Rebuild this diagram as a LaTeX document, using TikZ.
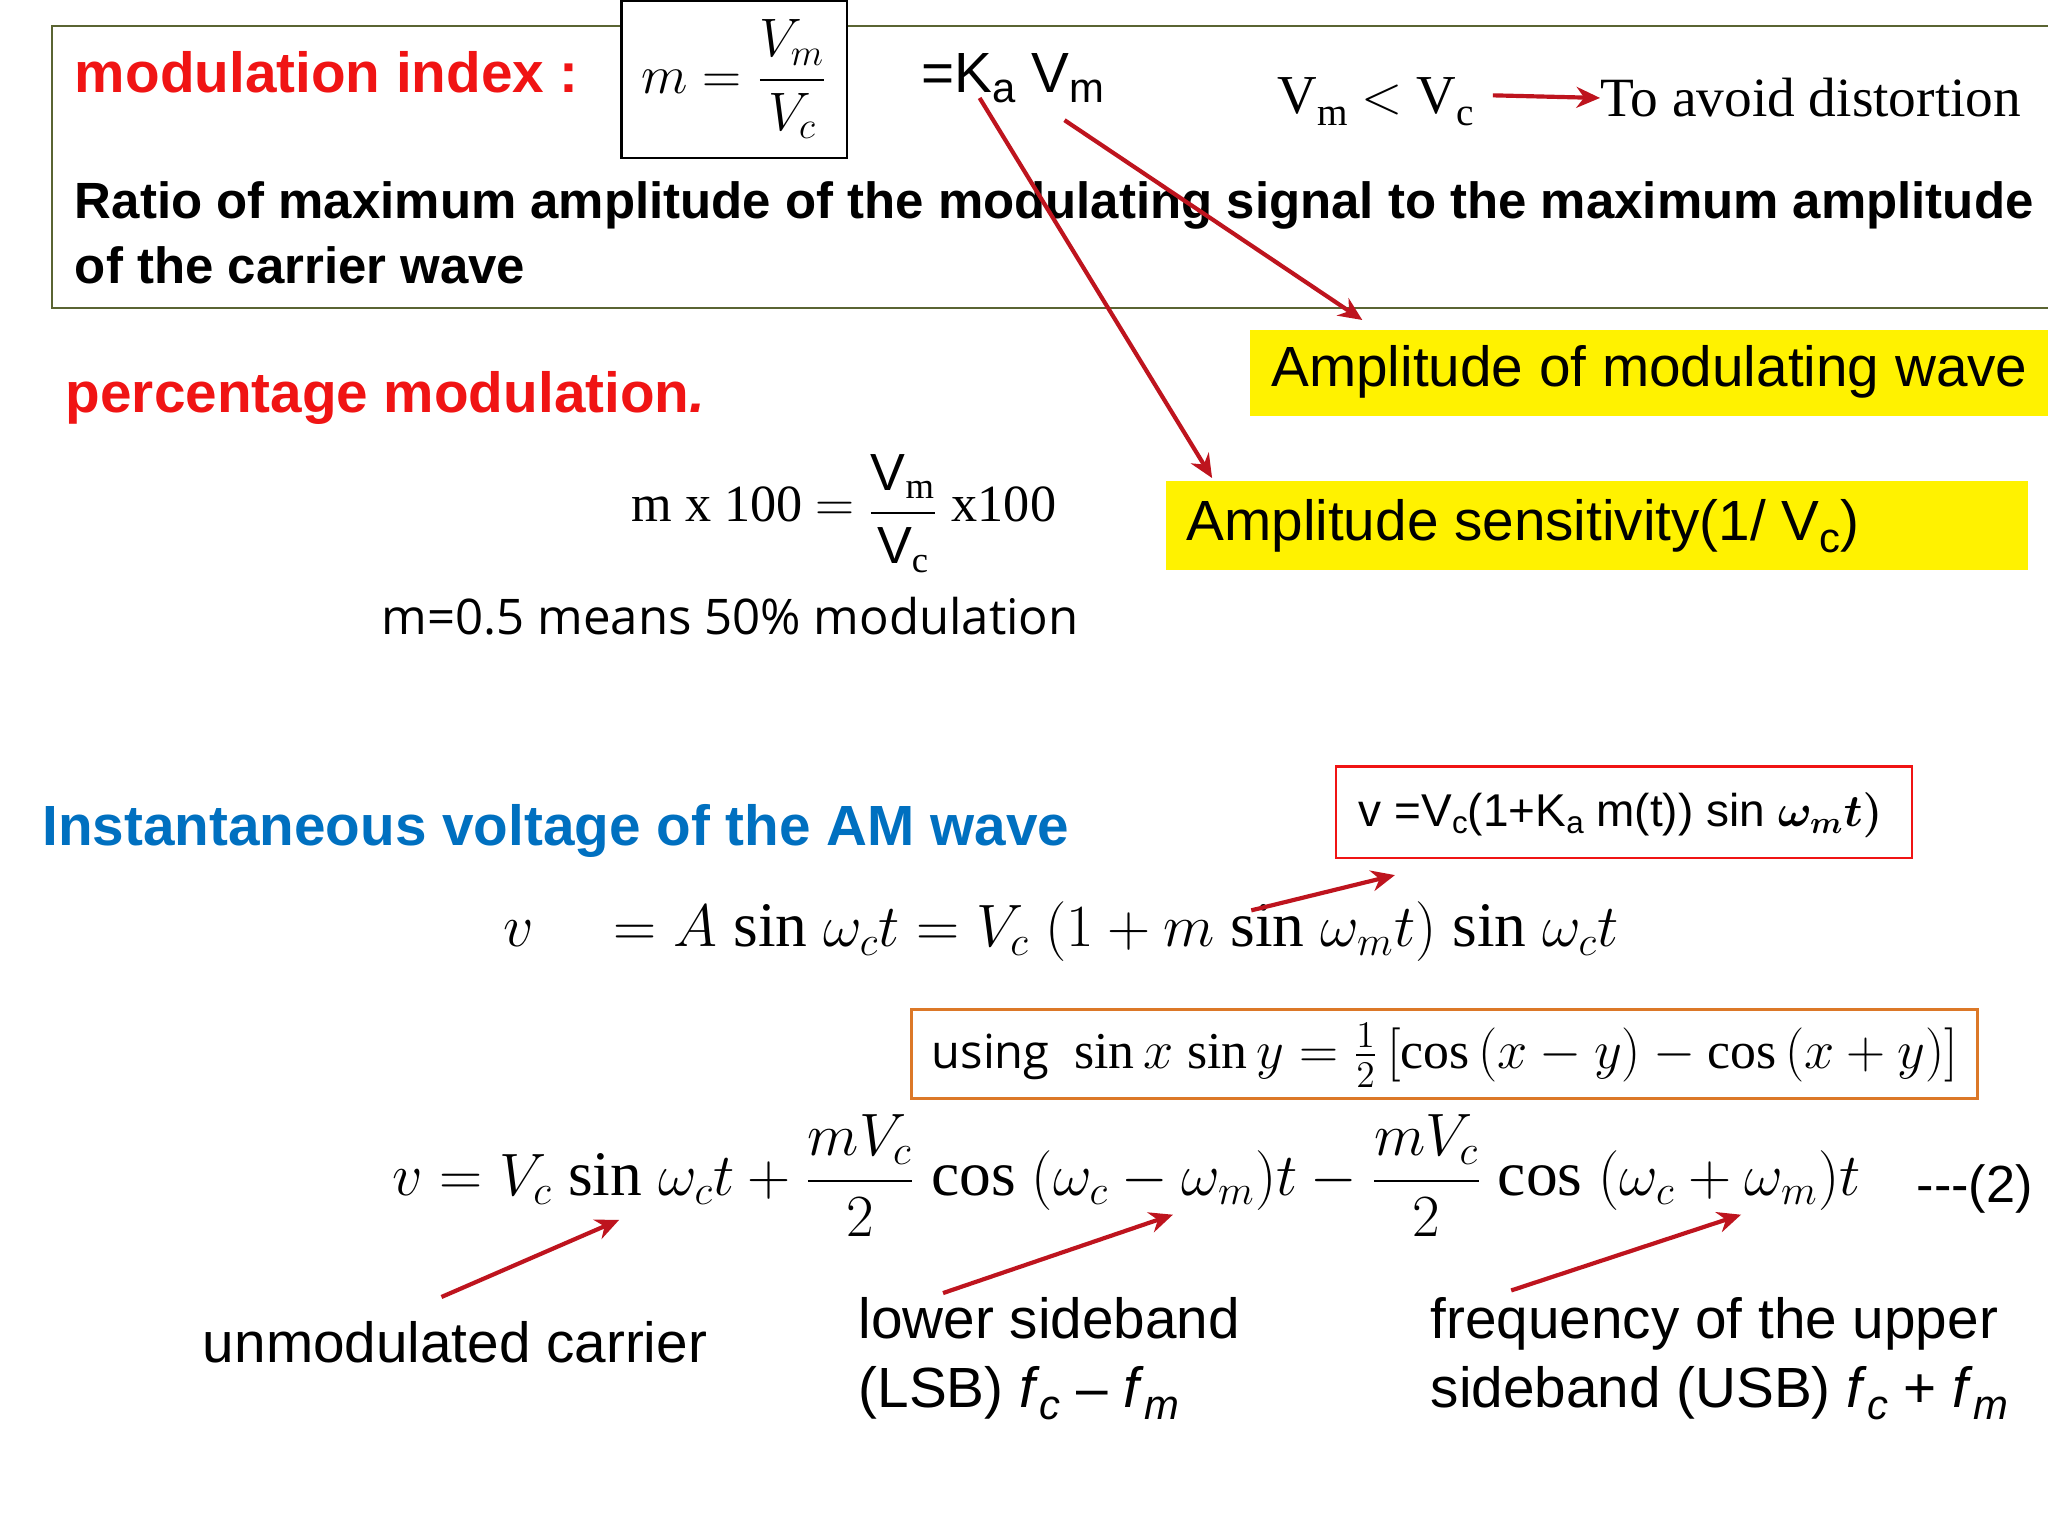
\documentclass[tikz,border=0pt]{standalone}
\usepackage{amsmath}
\usepackage{graphicx}
\usepackage{fontspec}
\setmainfont{Liberation Serif}
\setsansfont{Liberation Sans}
\newfontfamily\osans{Open Sans}
\usetikzlibrary{arrows.meta}
\definecolor{ared}{RGB}{190,20,30}
\definecolor{tred}{RGB}{240,20,20}
\definecolor{tblue}{RGB}{0,112,192}
\definecolor{olivebd}{RGB}{90,100,50}
\definecolor{orng}{RGB}{220,120,40}
\tikzset{
 arr/.style={draw=ared,line width=1.6pt,-{Stealth[length=9pt,width=8pt]}},
 lab/.style={anchor=west,inner sep=0pt,font=\sffamily\fontsize{21.7}{26}\selectfont},
 hd/.style={anchor=west,inner sep=0pt,font=\sffamily\bfseries\fontsize{21.7}{26}\selectfont},
 ybox/.style={fill=yellow,draw=none,anchor=north west,inner sep=0pt},
 eq/.style={inner sep=0pt,font=\fontsize{22}{26}\selectfont}
}
\begin{document}
\begin{tikzpicture}[x=0.5pt,y=-0.5pt]
\useasboundingbox (0,0) rectangle (1568,1176);
\fill[white] (0,0) rectangle (1568,1176);
\draw[olivebd,line width=0.8pt] (1570,20) -- (40,20) -- (40,236) -- (1570,236);
\node[hd,text=tred] (mi) at (57,55) {modulation index :};
\node[draw,fill=white,line width=0.8pt,minimum width=86.5pt,minimum height=60pt,anchor=north west,inner sep=0pt] (mbox) at (475,0) {};
\node[inner sep=0pt,font=\fontsize{21}{24}\selectfont] (mfrac) at (mbox.center) {$m=\dfrac{V_m}{V_c}$};
\node[lab] (ka) at (705,60) {=K\raisebox{-0.35ex}{\fontsize{16}{17}\selectfont a} V\raisebox{-0.35ex}{\fontsize{16}{17}\selectfont m}};
\node[anchor=west,inner sep=0pt,font=\fontsize{21}{24}\selectfont] (vmvc) at (978,78) {V\raisebox{-0.5ex}{\fontsize{15}{16}\selectfont m} $<$ V\raisebox{-0.5ex}{\fontsize{15}{16}\selectfont c}};
\coordinate (a1) at (1143,73);
\node[anchor=west,inner sep=0pt,font=\fontsize{21.2}{24}\selectfont] (avoid) at (1225,75) {To avoid distortion};
\draw[arr] (a1) -- (avoid.west);
\node[anchor=west,inner sep=0pt,font=\sffamily\bfseries\fontsize{19.5}{22}\selectfont] (ratio1) at (57,157) {Ratio of maximum amplitude of the modulating signal to the maximum amplitude};
\node[anchor=west,inner sep=0pt,font=\sffamily\bfseries\fontsize{19.5}{22}\selectfont] (ratio2) at (57,203) {of the carrier wave};
\node[hd,text=tred] (pm) at (50,305) {percentage modulation\textit{.}};
\node[anchor=west,inner sep=0pt,font=\fontsize{20}{24}\selectfont] (pmeq) at (483,393) {m x 100 $=$ \raisebox{-0.2ex}{$\dfrac{\textsf{V}_{\mathrm{m}}}{\textsf{V}_{\mathrm{c}}}$} x100};
\node[anchor=west,inner sep=0pt,font=\osans\fontsize{18.8}{22}\selectfont] (half) at (292,472) {m=0.5 means 50\% modulation};
\node[ybox,minimum width=305.5pt,minimum height=33pt] (y1) at (957,252) {};
\node[lab] (y1t) at (973,285) {Amplitude of modulating wave};
\node[ybox,minimum width=330pt,minimum height=34pt] (y2) at (892,368) {};
\node[lab] (y2t) at (908,403) {Amplitude sensitivity(1/ V\raisebox{-0.4ex}{\fontsize{16}{17}\selectfont c})};
\coordinate (s1) at (815,92); \coordinate (e1) at (1043,245);
\coordinate (s2) at (750,75); \coordinate (e2) at (928,366);
\draw[arr] (s1) -- (e1);
\draw[arr] (s2) -- (e2);
\node[hd,text=tblue] (inst) at (32,636) {Instantaneous voltage of the AM wave};
\node[draw=tred,line width=1pt,minimum width=220.5pt,minimum height=35pt,anchor=north west,inner sep=0pt] (rbox) at (1022,586) {};
\node[anchor=west,inner sep=0pt,font=\sffamily\fontsize{17.6}{20}\selectfont] (rbt) at (1040,624) {v =V\raisebox{-0.3ex}{\fontsize{12}{14}\selectfont c}(1+K\raisebox{-0.3ex}{\fontsize{12}{14}\selectfont a} m(t)) sin $\boldsymbol{\omega_m t)}$};
\node[eq,anchor=west] (eq1) at (385,713) {\resizebox{427pt}{!}{$v\quad = A\ \mathrm{sin}\ \omega_c t = V_c\ (1+m\ \mathrm{sin}\ \omega_m t)\ \mathrm{sin}\ \omega_c t$}};
\coordinate (s3) at (958,697); \coordinate (e3) at (1068,670);
\draw[arr] (s3) -- (e3);
\node[draw=orng,line width=1pt,minimum width=408pt,minimum height=34pt,anchor=north west,inner sep=0pt] (obox) at (697,772) {};
\node[anchor=west,inner sep=0pt,font=\osans\fontsize{18}{22}\selectfont] (using) at (713,808) {using \ \fontsize{19.8}{22}\selectfont$\mathrm{sin}\,x\ \mathrm{sin}\,y=\tfrac12\,[\mathrm{cos}\,(x-y)-\mathrm{cos}\,(x+y)]$};
\node[eq,anchor=west] (eq2) at (300,900) {\resizebox{562pt}{!}{$v=V_c\ \mathrm{sin}\ \omega_c t+\dfrac{mV_c}{2}\ \mathrm{cos}\ (\omega_c-\omega_m)t-\dfrac{mV_c}{2}\ \mathrm{cos}\ (\omega_c+\omega_m)t$}};
\node[anchor=west,inner sep=0pt,font=\sffamily\fontsize{20}{24}\selectfont] (two) at (1467,910) {-{}-{}-(2)};
\coordinate (s4) at (338,993); \coordinate (e4) at (474,934);
\coordinate (s5) at (722,990); \coordinate (e5) at (898,930);
\coordinate (s6) at (1157,988); \coordinate (e6) at (1333,930);
\draw[arr] (s4) -- (e4);
\draw[arr] (s5) -- (e5);
\draw[arr] (s6) -- (e6);
\node[lab] (unm) at (155,1028) {unmodulated carrier};
\node[lab,anchor=north west,align=left,font=\sffamily\fontsize{21.7}{26.5}\selectfont] (lsb) at (657,993) {lower sideband\\(LSB) \textit{f}\raisebox{-0.4ex}{\textit{\fontsize{16}{17}\selectfont c}} -- \textit{f}\raisebox{-0.4ex}{\textit{\fontsize{16}{17}\selectfont m}}};
\node[lab,anchor=north west,align=left,font=\sffamily\fontsize{21.7}{26.5}\selectfont] (usb) at (1095,993) {frequency of the upper\\sideband (USB) \textit{f}\raisebox{-0.4ex}{\textit{\fontsize{16}{17}\selectfont c}} + \textit{f}\raisebox{-0.4ex}{\textit{\fontsize{16}{17}\selectfont m}}};
\end{tikzpicture}
\end{document}
